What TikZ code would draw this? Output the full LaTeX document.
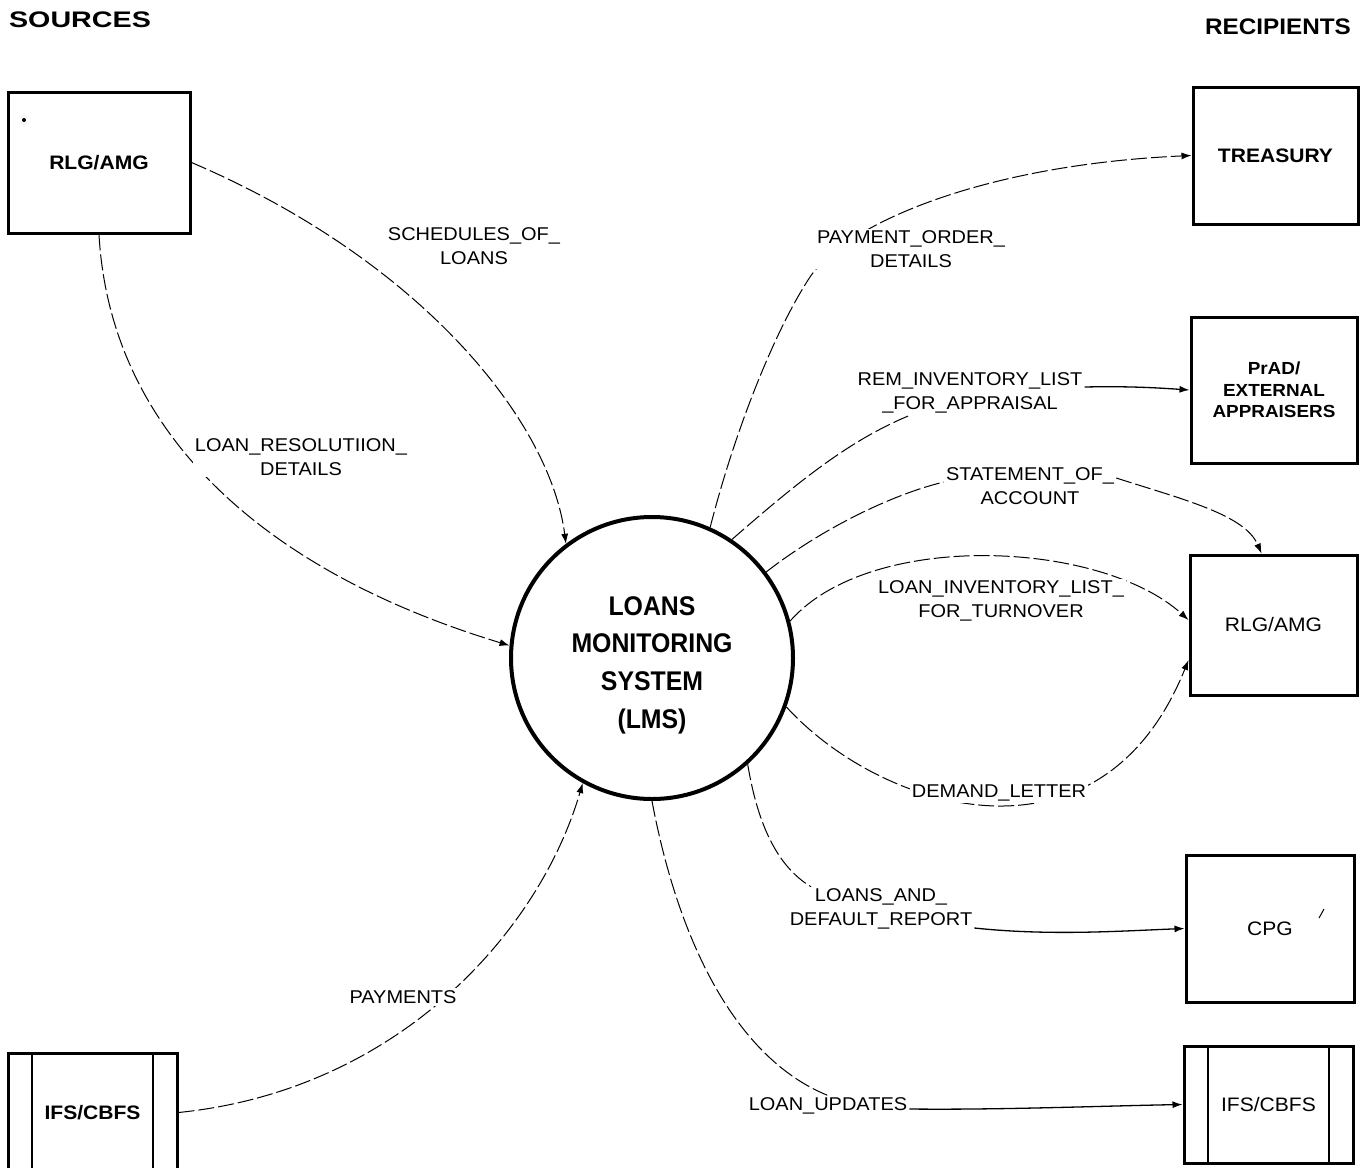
\documentclass[tikz,border=0pt]{standalone}
\usepackage{fontspec}
\usepackage{graphicx}
\setmainfont[FakeStretch=1.08]{Liberation Sans}
\newfontfamily\lmsfont[FakeStretch=0.92]{Liberation Sans}
\usetikzlibrary{arrows.meta}
\pgfdeclarelayer{bg}
\pgfsetlayers{bg,main}
\tikzset{
  ent/.style={draw=black, line width=3pt, inner sep=0pt, align=center,
    font=\fontsize{19.5}{23}\selectfont},
  entb/.style={ent, font=\fontsize{19.5}{23}\selectfont\bfseries},
  storeside/.style={path picture={
    \draw[line width=2.2pt]
      ([xshift=24pt]path picture bounding box.north west) -- ([xshift=24pt]path picture bounding box.south west)
      ([xshift=-24pt]path picture bounding box.north east) -- ([xshift=-24pt]path picture bounding box.south east);}},
  flowlbl/.style={fill=white, inner sep=2pt, align=center,
    font=\fontsize{18.5}{23.5}\selectfont},
  hdr/.style={inner sep=0pt, font=\fontsize{22.5}{26}\selectfont\bfseries},
  flow/.style={line width=1pt, dash pattern=on 16pt off 4pt},
  solidflow/.style={line width=1.3pt},
  tip/.style={-{Latex[length=10pt,width=7pt]}}
}
\begin{document}
\begin{tikzpicture}[x=1pt,y=-1pt]
\useasboundingbox (0,0) rectangle (1369,1168);

% headers
\node[hdr] (src) at (80,20) {\scalebox{1.18}[1]{SOURCES}};
\node[hdr] (rcp) at (1278,27) {RECIPIENTS};

% entities
\node[entb, minimum width=182pt, minimum height=141pt] (srcA) at (99,162.5) {RLG/AMG};
\node[entb, minimum width=165pt, minimum height=137pt] (trs) at (1275.5,155.5) {TREASURY};
\node[ent, minimum width=166pt, minimum height=146pt,
      font=\fontsize{17.5}{21.5}\selectfont\bfseries] (prad) at (1274,390) {PrAD/\\EXTERNAL\\APPRAISERS};
\node[ent, minimum width=167pt, minimum height=140pt] (rlg) at (1273.5,625) {RLG/AMG};
\node[ent, minimum width=168pt, minimum height=147pt] (cpg) at (1270,928.5) {CPG};
\node[ent, storeside, minimum width=169pt, minimum height=117pt] (ifsR) at (1268.5,1104.5) {IFS/CBFS};
\node[entb, storeside, minimum width=169pt, minimum height=119pt] (ifsL) at (92.5,1112.5) {IFS/CBFS};

% process
\node[draw=black, circle, line width=4pt, minimum size=282pt, inner sep=0pt] (lms) at (652,658) {};
\node[inner sep=0pt, align=center, font=\fontsize{27}{37.7}\selectfont\lmsfont\bfseries] (lmstxt) at (652,665)
  {LOANS\\MONITORING\\SYSTEM\\(LMS)};

% flow labels
\node[flowlbl] (schl) at (474,246) {SCHEDULES\_OF\_\\LOANS};
\node[flowlbl] (resl) at (301,457) {LOAN\_RESOLUTIION\_\\DETAILS};
\node[flowlbl] (payol) at (911,249) {PAYMENT\_ORDER\_\\DETAILS};
\node[flowlbl] (reml) at (970,393) {REM\_INVENTORY\_LIST\\\_FOR\_APPRAISAL};
\node[flowlbl] (stml) at (1030,486) {STATEMENT\_OF\_\\ACCOUNT};
\node[flowlbl] (lil) at (1001,601) {LOAN\_INVENTORY\_LIST\_\\FOR\_TURNOVER};
\node[flowlbl] (deml) at (999,793) {DEMAND\_LETTER};
\node[flowlbl] (ldrl) at (881,909) {LOANS\_AND\_\\DEFAULT\_REPORT};
\node[flowlbl] (payl) at (403,997) {PAYMENTS};
\node[flowlbl] (lul) at (828,1106) {LOAN\_UPDATES};

\coordinate (pobend) at (810,277);

\begin{pgfonlayer}{bg}
\fill[white] (0,0) rectangle (1369,1168);
% sources -> LMS
\draw[flow, tip] (srcA.east) .. controls (420,260) and (550,420) .. (lms.127);
\draw[flow, tip] (srcA.south) .. controls (110,430) and (260,570) .. (lms.175);
\draw[flow, tip] (ifsL.east) .. controls (400,1090) and (540,930) .. (lms.-119);
% LMS -> recipients
\draw[flow, tip] (lms.66) .. controls (735,430) and (775,330) .. (pobend)
   .. controls (845,225) and (980,165) .. (trs.west);
\draw[flow] (lms.56) .. controls (800,480) and (850,440) .. ([xshift=-60pt]reml.south);
\draw[solidflow, tip] ([yshift=6pt]reml.east) .. controls (1130,386) and (1160,388) .. (prad.west);
\draw[flow] (lms.37) .. controls (820,530) and (890,495) .. ([yshift=4pt]stml.west);
\draw[flow, tip] ([yshift=8pt]stml.east) .. controls (1185,500) and (1245,515) .. ([xshift=-12pt]rlg.north);
\draw[flow, tip] (lms.15) .. controls (870,530) and (1100,540) .. ([yshift=5pt]rlg.west);
\draw[flow, tip] (lms.-20) .. controls (880,810) and (1100,880) .. ([yshift=-35pt]rlg.west);
\draw[flow] (lms.-48) .. controls (757,820) and (775,865) .. ([xshift=-70pt]ldrl.north);
\draw[solidflow, tip] ([yshift=-19pt]ldrl.east) .. controls (1050,936) and (1120,931) .. (cpg.west);
\draw[flow] (lms.-90) .. controls (680,950) and (740,1060) .. (lul.north);
\draw[solidflow, tip] ([yshift=-3pt]lul.east) .. controls (1000,1110) and (1100,1106) .. (ifsR.west);
\end{pgfonlayer}

% small marks seen in the scan
\fill (24,120) circle (2);
\draw[line width=1pt] (1319,918) -- (1324,909);
\end{tikzpicture}
\end{document}
